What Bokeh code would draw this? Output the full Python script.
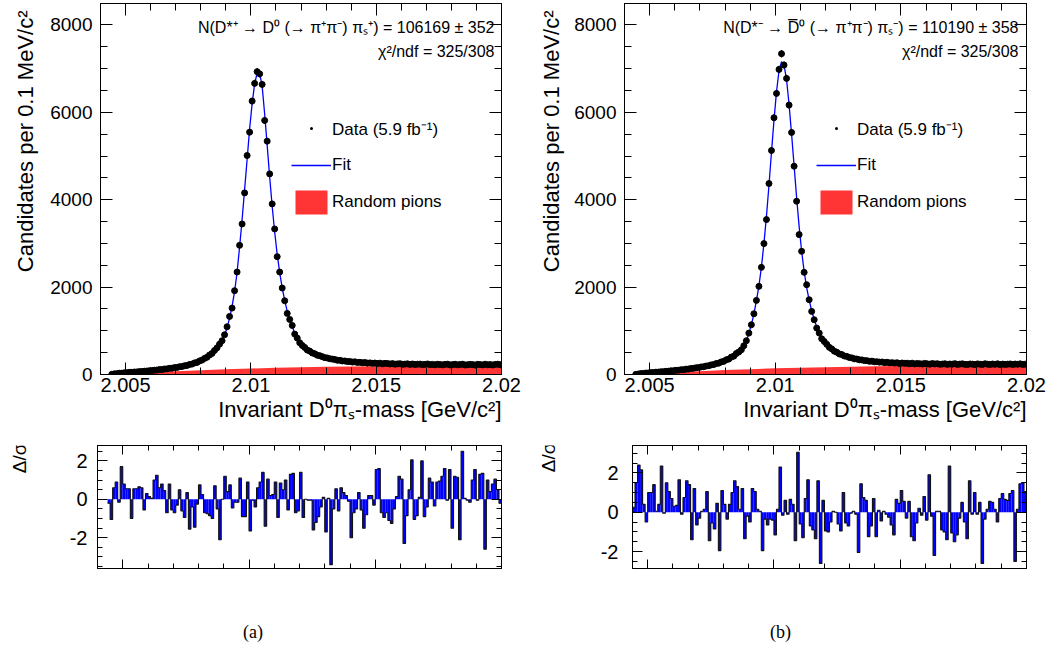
import numpy as np
from bokeh.plotting import figure
from bokeh.models import (Range1d, LinearAxis, Label, Legend, LegendItem, FixedTicker, Div,
                          CustomJSTickFormatter, Title)
from bokeh.layouts import column, row
from bokeh.embed import file_html
from bokeh.resources import INLINE

# ---------------- data ----------------
MASS_LOW = 2.0044      # lower edge of first bin [GeV/c^2]
BIN_W = 0.0001         # 0.1 MeV bins
N_BINS = 156

data_a = [4, 15, 20, 29, 30, 39, 40, 49, 50, 57,
          58, 66, 67, 76, 78, 87, 89, 99, 101, 112,
          113, 126, 128, 141, 143, 158, 161, 178, 182, 200,
          207, 229, 238, 265, 277, 310, 329, 368, 395, 446,
          482, 552, 610, 695, 772, 909, 1092, 1329, 1520, 1918,
          2345, 2956, 3445, 4156, 5011, 5546, 6257, 6662, 6930, 6880,
          6639, 5814, 5340, 4591, 3904, 3331, 2697, 2345, 1979, 1688,
          1398, 1260, 1123, 924, 833, 726, 665, 618, 560, 535,
          493, 474, 441, 430, 409, 386, 379, 360, 352, 343,
          326, 324, 309, 310, 296, 297, 284, 290, 276, 279,
          268, 274, 260, 266, 255, 262, 250, 259, 244, 255,
          252, 240, 249, 236, 243, 247, 232, 238, 244, 230,
          240, 229, 236, 238, 225, 233, 241, 226, 231, 222,
          235, 228, 220, 232, 237, 219, 226, 234, 221, 229,
          236, 218, 224, 231, 227, 215, 233, 226, 220, 235,
          222, 228, 217, 231, 236, 224]

fit_a = [5, 14, 21, 27, 32, 37, 42, 47, 51, 55,
         60, 64, 69, 74, 79, 85, 91, 97, 103, 109,
         116, 123, 130, 138, 146, 155, 164, 174, 185, 197,
         210, 225, 242, 260, 281, 305, 332, 363, 398, 440,
         488, 545, 612, 690, 785, 905, 1065, 1290, 1560, 1900,
         2340, 2920, 3540, 4230, 4920, 5620, 6200, 6650, 6900, 6890,
         6600, 5960, 5250, 4520, 3850, 3260, 2750, 2330, 1980, 1690,
         1450, 1250, 1090, 950, 840, 745, 668, 610, 565, 528,
         497, 470, 447, 426, 407, 391, 376, 362, 350, 339,
         329, 320, 312, 305, 299, 293, 288, 283, 279, 275,
         271, 268, 265, 262, 259, 257, 255, 253, 251, 249,
         247, 245, 244, 242, 241, 240, 239, 238, 237, 236,
         235, 234, 233, 233, 232, 231, 231, 230, 230, 229,
         229, 228, 228, 227, 227, 227, 226, 226, 226, 225,
         225, 225, 225, 224, 224, 224, 224, 224, 223, 223,
         223, 223, 223, 223, 223, 223]

data_b = [3, 11, 21, 24, 33, 35, 43, 45, 53, 55,
          63, 64, 74, 75, 85, 86, 97, 98, 109, 111,
          123, 125, 138, 141, 154, 158, 173, 178, 194, 200,
          220, 227, 250, 260, 288, 301, 336, 352, 398, 420,
          480, 515, 565, 657, 772, 947, 1138, 1390, 1696, 2017,
          2452, 2995, 3545, 4370, 5126, 5875, 6432, 6982, 7341, 7082,
          6776, 6165, 5539, 4767, 3965, 3201, 2819, 2338, 2055, 1711,
          1444, 1253, 1062, 947, 817, 756, 690, 622, 586, 534,
          510, 470, 455, 424, 413, 388, 380, 358, 354, 336,
          334, 318, 316, 301, 306, 290, 291, 283, 286, 271,
          280, 266, 270, 262, 268, 251, 263, 255, 258, 247,
          259, 243, 252, 247, 240, 254, 244, 236, 250, 241,
          247, 233, 239, 246, 231, 240, 236, 248, 229, 238,
          244, 232, 228, 241, 237, 226, 243, 235, 230, 246,
          236, 229, 240, 233, 245, 224, 238, 231, 236, 242,
          228, 239, 234, 244, 230, 237]

fit_b = [4, 12, 19, 25, 31, 36, 41, 46, 51, 56,
         61, 66, 71, 76, 82, 88, 94, 100, 106, 113,
         120, 127, 135, 143, 151, 160, 170, 180, 191, 203,
         216, 230, 246, 263, 283, 305, 330, 358, 390, 428,
         472, 520, 575, 650, 770, 940, 1140, 1380, 1690, 2030,
         2460, 3000, 3620, 4330, 5090, 5820, 6470, 6950, 7160, 7080,
         6750, 6180, 5500, 4780, 4050, 3390, 2820, 2360, 1990, 1700,
         1460, 1260, 1090, 955, 845, 755, 685, 628, 580, 540,
         505, 476, 450, 428, 408, 391, 376, 362, 350, 339,
         329, 320, 312, 305, 299, 293, 288, 284, 280, 276,
         273, 270, 267, 264, 262, 260, 258, 256, 254, 253,
         251, 250, 249, 248, 247, 246, 245, 244, 243, 242,
         242, 241, 240, 240, 239, 239, 238, 238, 237, 237,
         237, 236, 236, 236, 235, 235, 235, 235, 234, 234,
         234, 234, 234, 233, 233, 233, 233, 233, 233, 232,
         232, 232, 232, 232, 232, 232]

bkg_mass = [2.0044, 2.0046, 2.0050, 2.0055, 2.0060, 2.0070, 2.0080, 2.0090, 2.0100,
            2.0110, 2.0120, 2.0130, 2.0140, 2.0150, 2.0160, 2.0170, 2.0180, 2.0190, 2.0200]
bkg_a = [0, 12, 25, 38, 50, 75, 100, 120, 138, 152, 165, 175, 183, 190, 196, 201, 205, 208, 211]
bkg_b = [0, 12, 26, 39, 52, 77, 102, 123, 141, 155, 168, 178, 186, 193, 199, 204, 208, 211, 214]

pull_a = [-0.2, -1.05, 0.6, 0.9, -0.15, 1.7, 0.8, 0.55, 0.55, -1.0,
          0.55, 0.55, 0.65, 0.6, -0.55, 0.3, 0.15, 0.05, 1.0, 1.25,
          0.6, 0.8, 0.45, -0.7, 0.8, -0.55, -0.7, -0.3, 0.5, -0.6,
          -0.95, 0.35, -1.55, -0.4, -1.45, -0.25, 0.75, 0.25, -0.7, -0.75,
          -0.85, -1.0, 0.7, -0.5, -2.1, 0.0, 1.2, 0.4, 0.75, -0.45,
          -0.15, -0.15, 1.1, -0.9, -0.9, 0.9, -1.65, -0.05, -0.4, 0.6,
          0.9, 1.4, -1.4, 1.05, 0.2, 0.25, 0.9, -0.95, 0.85, 0.5,
          1.0, -0.55, 1.3, 1.35, -0.7, -0.6, 1.4, -0.95, 0.0, -0.05,
          -0.05, -1.6, -1.2, -0.9, -0.4, 0.1, -1.7, 0.05, -3.4, -0.5,
          0.55, -0.6, 0.6, 0.35, 0.2, -0.1, -2.0, -0.7, -0.5, 0.35,
          -0.55, -1.5, -0.8, 0.2, 0.2, -0.3, 1.55, 1.6, -0.7, -0.95,
          -0.7, -1.1, -1.25, -0.5, 0.15, 1.2, 1.05, -2.3, -0.85, 0.5,
          2.05, -1.05, -0.85, 0.1, 2.0, -0.9, -0.4, 1.1, 0.9, -0.35,
          0.9, 0.95, 1.2, 1.6, -0.05, 1.55, -1.5, 1.2, 1.15, -2.1,
          2.5, 0.05, -0.05, -0.15, 1.0, 1.55, -0.05, 1.3, 1.35, -2.6,
          1.0, 0.4, 0.8, 1.05, 0.5, -0.2]

pull_b = [0.25, 1.5, 2.4, 2.15, 0.4, -0.5, 1.0, 1.0, 1.4, 0.05,
          0.4, 2.35, -0.05, 1.5, 1.05, 0.7, 0.3, 0.35, 1.65, -0.1,
          0.75, 1.6, 1.4, -1.4, 1.2, -0.65, -0.3, 0.05, 0.15, 1.05,
          -1.45, -0.55, -0.85, 0.45, -1.95, 1.1, 0.4, -0.35, 0.4, 1.0,
          1.6, 1.3, 0.15, 1.2, -1.35, -0.2, -0.5, 1.2, 1.05, 0.15,
          0.05, -1.95, -0.35, -0.65, -0.35, -0.4, -1.15, 0.15, 2.3, -0.15,
          0.6, -0.1, 0.65, 0.4, -1.45, 3.05, -0.6, -1.3, 0.7, 1.65,
          -0.7, -0.9, -1.35, 1.6, -2.6, 0.6, -0.95, -1.0, -0.5, 0.05,
          0.0, -0.6, -0.95, 1.0, -0.55, -0.7, -0.05, 0.05, -0.1, -2.05,
          1.45, 0.75, 0.6, -1.25, -0.7, 0.7, -1.25, 0.1, -0.45, 0.05,
          -0.1, -0.25, -0.65, -1.15, 0.65, 0.45, 1.1, 0.55, -0.3, 0.55,
          -1.25, -1.45, -0.55, 0.2, -0.15, 0.8, -0.4, 1.9, -0.2, -2.2,
          0.05, 0.05, -0.9, -1.0, -1.4, 2.35, -1.05, -1.5, -1.15, -0.3,
          0.5, -0.5, -1.35, 1.6, -0.1, 1.0, -0.1, 0.5, -2.6, -0.35,
          0.15, 0.55, 0.5, 0.15, -0.5, 0.7, 0.95, 0.65, 0.6, 0.95,
          1.1, -2.5, 0.15, 1.45, 1.5, 1.05]

for arr in (data_a, fit_a, data_b, fit_b, pull_a, pull_b):
    assert len(arr) == N_BINS, len(arr)

main_x_ticks = [2.005, 2.01, 2.015, 2.02]
main_x_labels = ["2.005", "2.01", "2.015", "2.02"]
main_y_ticks = [0, 2000, 4000, 6000, 8000]
main_y_labels = ["0", "2000", "4000", "6000", "8000"]
pull_y_ticks = [-2, 0, 2]
pull_y_labels = ["-2", "0", "2"]

title_a = "N(D*\u207a \u2192 D\u2070 (\u2192 \u03c0\u207a\u03c0\u207b) \u03c0\u209b\u207a) = 106169 \u00b1 352"
title_b = "N(D*\u207b \u2192 D\u0305\u2070 (\u2192 \u03c0\u207a\u03c0\u207b) \u03c0\u209b\u207b) = 110190 \u00b1 358"
chi_text = "\u03c7\u00b2/ndf = 325/308"
leg_labels = ["Data (5.9 fb\u207b\u00b9)", "Fit", "Random pions"]
x_title = "Invariant D\u2070\u03c0\u209b-mass [GeV/c\u00b2]"
y_title = "Candidates per 0.1 MeV/c\u00b2"
pull_title = "\u0394/\u03c3"

FONT = "Liberation Sans"
RED = "#ff3535"
BLUE = "#0000ff"

edges = MASS_LOW + BIN_W * np.arange(N_BINS + 1)
centers = edges[:-1] + BIN_W / 2

BLANK = CustomJSTickFormatter(code="return ''")


def style_axis(ax, ticks, minor, major_in, minor_in, labels=None, fs="20px", standoff=6):
    ax.ticker = FixedTicker(ticks=ticks, minor_ticks=minor)
    ax.major_tick_in = major_in
    ax.major_tick_out = 0
    ax.minor_tick_in = minor_in
    ax.minor_tick_out = 0
    ax.axis_line_color = "black"
    ax.major_tick_line_color = "black"
    ax.minor_tick_line_color = "black"
    if labels is None:
        ax.formatter = BLANK
        ax.major_label_text_font_size = "1px"
        ax.major_label_standoff = 0
    else:
        ax.major_label_overrides = {t: l for t, l in zip(ticks, labels)}
        ax.major_label_text_font = FONT
        ax.major_label_text_font_size = fs
        ax.major_label_text_color = "black"
        ax.major_label_standoff = standoff


def side_title(p, text, size, side, standoff, offset=0):
    t = Title(text=text, align="right", text_font=FONT, text_font_size=size,
              text_font_style="normal", text_color="black", offset=offset)
    if "standoff" in type(t).properties():
        t.standoff = standoff
    p.add_layout(t, side)


def add_label(p, x, y, text, size, align="left", angle=0.0):
    p.add_layout(Label(x=x, y=y, x_units="screen", y_units="screen", text=text,
                       text_font=FONT, text_font_size=size, text_align=align, angle=angle,
                       text_baseline="middle", text_color="black"))


def base_fig(width, height, xr, yr, bl, br, bt, bb):
    p = figure(width=width, height=height, x_range=xr, y_range=yr,
               output_backend="svg", toolbar_location=None,
               min_border_left=bl, min_border_right=br, min_border_top=bt, min_border_bottom=bb)
    p.grid.visible = False
    p.outline_line_color = "black"
    p.background_fill_color = "white"
    p.border_fill_color = "white"
    top = LinearAxis()
    right = LinearAxis()
    p.add_layout(top, "above")
    p.add_layout(right, "right")
    return p, top, right


def main_panel(data, fit, bkg, title, width, border_left, leg_x, ylab_standoff):
    p, top, right = base_fig(width, 430, Range1d(2.004, 2.02), Range1d(0, 8490),
                             border_left, width - border_left - 404, 3, 56)
    xminor = list(np.round(np.arange(2.004, 2.02001, 0.001), 4))
    yminor = list(np.arange(0, 8491, 500))
    style_axis(p.below[0], main_x_ticks, xminor, 12, 7, main_x_labels, "20px", 3)
    style_axis(top, main_x_ticks, xminor, 12, 7)
    style_axis(p.left[0], main_y_ticks, yminor, 12, 7, main_y_labels, "19px", 8)
    style_axis(right, main_y_ticks, yminor, 12, 7)
    side_title(p, x_title, "22px", "below", 0)
    side_title(p, y_title, "22px", "left", ylab_standoff, offset=7)

    r_bkg = p.varea(x=bkg_mass, y1=0, y2=bkg, fill_color=RED)
    r_fit = p.line(centers, fit, line_color=BLUE, line_width=1.3)
    arr = np.array(data, dtype=float)
    err = np.sqrt(arr)
    p.segment(centers, arr - err, centers, arr + err, line_color="black", line_width=1)
    p.scatter(centers, data, size=6, color="black")
    r_dot = p.scatter(centers, data, marker="dot", size=6, color="black")

    leg = Legend(items=[LegendItem(label=leg_labels[0], renderers=[r_dot]),
                        LegendItem(label=leg_labels[1], renderers=[r_fit]),
                        LegendItem(label=leg_labels[2], renderers=[r_bkg])],
                 location=(leg_x, 157), orientation="vertical", glyph_width=40, glyph_height=30,
                 label_standoff=1, spacing=7, padding=0, margin=0,
                 border_line_alpha=0, background_fill_alpha=0,
                 label_text_font=FONT, label_text_font_size="17px", label_text_color="black")
    p.add_layout(leg)

    add_label(p, 394, 347, title, "16px", align="right")
    add_label(p, 394, 323, chi_text, "16px", align="right")
    return p


def pull_panel(pull, width, x_lo, y_lo, y_hi, border_left, frame_w, tick_standoff):
    p, top, right = base_fig(width, 143, Range1d(x_lo, 2.02), Range1d(y_lo, y_hi),
                             border_left, width - border_left - frame_w, 15, 5)
    xminor = [v for v in np.round(np.arange(2.004, 2.02001, 0.001), 4) if v >= x_lo]
    yminor = list(np.arange(-3.5, 3.51, 0.5))
    style_axis(p.below[0], main_x_ticks, xminor, 9, 5)
    style_axis(top, main_x_ticks, xminor, 9, 5)
    style_axis(p.left[0], pull_y_ticks, yminor, 10, 5, pull_y_labels, "20px", tick_standoff)
    style_axis(right, pull_y_ticks, yminor, 10, 5)

    p.quad(left=edges[:-1], right=edges[1:], bottom=0, top=pull, fill_color=BLUE, line_color=None)
    p.step(x=list(edges), y=list(pull) + [pull[-1]], mode="after", line_color="#111111",
           line_width=1.1)
    return p


def title_column(width, height, text, cx, top_y, size):
    p = figure(width=width, height=height, x_range=Range1d(0, 1), y_range=Range1d(0, 1),
               output_backend="svg", toolbar_location=None, x_axis_type=None, y_axis_type=None,
               min_border_left=0, min_border_right=0, min_border_top=0, min_border_bottom=0)
    p.outline_line_color = None
    p.background_fill_color = "white"
    p.border_fill_color = "white"
    add_label(p, cx, height - top_y, text, size, align="right", angle=np.pi / 2)
    return p


pa = main_panel(data_a, fit_a, bkg_a, title_a, 528, 97, 191, 20)
pb = main_panel(data_b, fit_b, bkg_b, title_b, 520, 94, 192, 16)
la = title_column(40, 143, pull_title, 19, 18, "19px")
ra = pull_panel(pull_a, 488, 2.004, -3.6, 2.8, 57, 404, 10)
lb = title_column(40, 143, pull_title, 20, 17, "19px")
rb = pull_panel(pull_b, 480, 2.0044, -2.86, 3.39, 64, 394, 14)

cap_style = "font-family:'Liberation Serif';font-size:18px;line-height:20px;color:black;"
cap_a = Div(text=f'<div style="{cap_style}padding-top:49px;padding-left:243px">(a)</div>',
            width=528, height=60, margin=0)
cap_b = Div(text=f'<div style="{cap_style}padding-top:49px;padding-left:242px">(b)</div>',
            width=520, height=60, margin=0)

layout = column(row(pa, pb), row(la, ra, lb, rb), row(cap_a, cap_b))

open("out.html", "w").write(file_html(layout, INLINE))
